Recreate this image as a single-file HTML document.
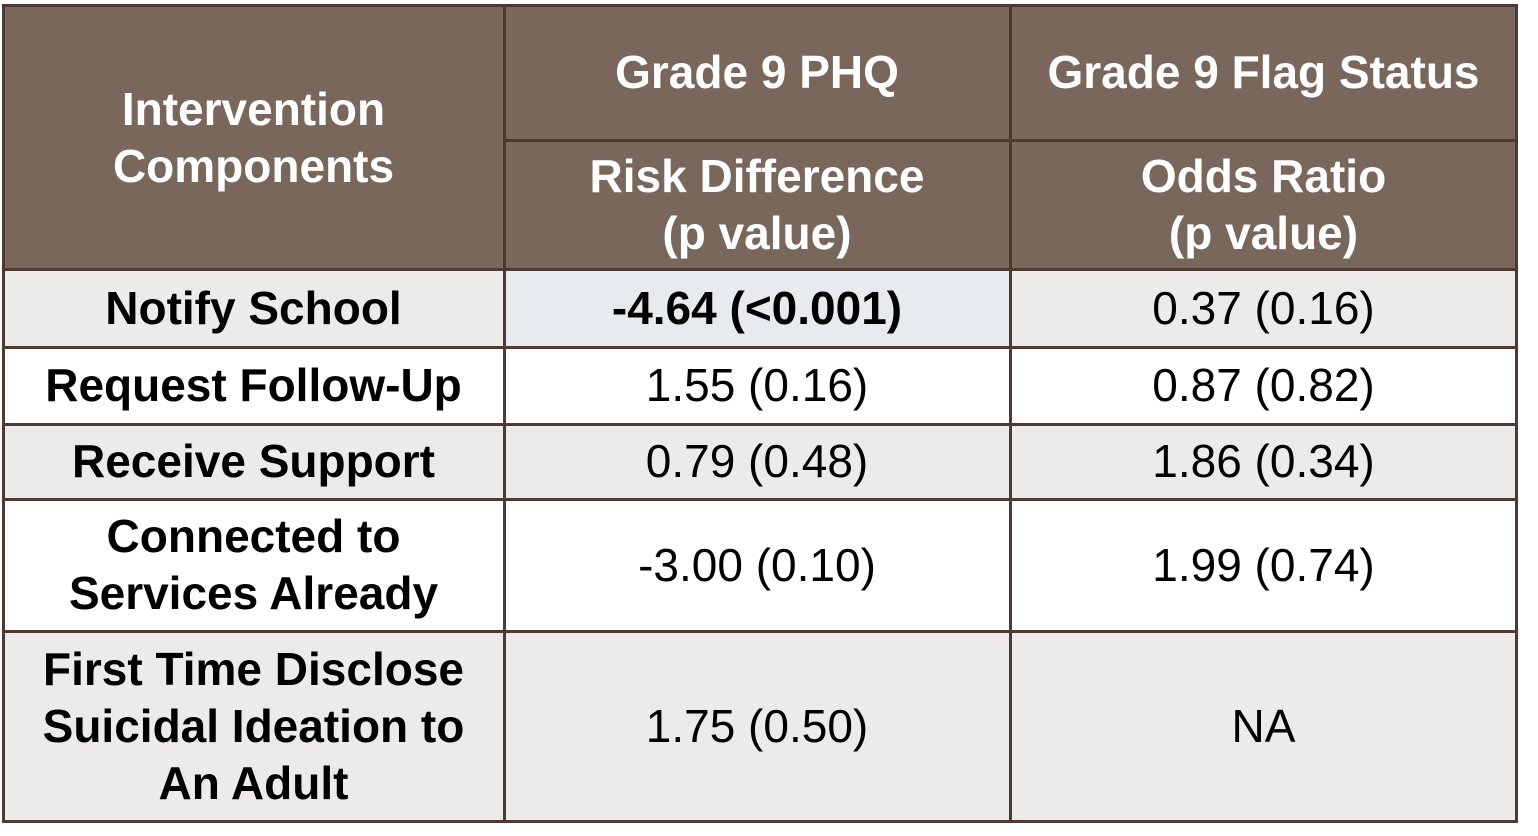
<!DOCTYPE html>
<html><head><meta charset="utf-8"><style>
html,body{margin:0;padding:0;background:#fff;width:1538px;height:836px;overflow:hidden}
.c{position:absolute;box-sizing:border-box;display:flex;align-items:center;justify-content:center;text-align:center;font-family:"Liberation Sans",Arial,sans-serif;font-size:46px;line-height:57px;color:#000}
.h{background:#7a675c;color:#fff;font-weight:bold}
.b{font-weight:bold}
.g{background:#edebe9}
.w{background:#fff}
.hl{position:absolute;background:#4e3a30}
</style></head><body>
<div style="position:absolute;left:0;top:0;width:1538px;height:836px">
<div class="c h" style="left:3px;top:5px;width:501px;height:265px">Intervention<br>Components</div>
<div class="c h" style="left:504px;top:5px;width:506px;height:135px">Grade 9 PHQ</div>
<div class="c h" style="left:1010px;top:5px;width:507px;height:135px">Grade 9 Flag Status</div>
<div class="c h" style="left:504px;top:140px;width:506px;height:130px">Risk Difference<br>(p value)</div>
<div class="c h" style="left:1010px;top:140px;width:507px;height:130px">Odds Ratio<br>(p value)</div>

<div class="c b g" style="left:3px;top:270px;width:501px;height:77px">Notify School</div>
<div class="c b" style="left:504px;top:270px;width:506px;height:77px;background:#e8ebee">-4.64 (&lt;0.001)</div>
<div class="c g" style="left:1010px;top:270px;width:507px;height:77px">0.37 (0.16)</div>

<div class="c b w" style="left:3px;top:347px;width:501px;height:77px">Request Follow-Up</div>
<div class="c w" style="left:504px;top:347px;width:506px;height:77px">1.55 (0.16)</div>
<div class="c w" style="left:1010px;top:347px;width:507px;height:77px">0.87 (0.82)</div>

<div class="c b g" style="left:3px;top:424px;width:501px;height:75px">Receive Support</div>
<div class="c g" style="left:504px;top:424px;width:506px;height:75px">0.79 (0.48)</div>
<div class="c g" style="left:1010px;top:424px;width:507px;height:75px">1.86 (0.34)</div>

<div class="c b w" style="left:3px;top:499px;width:501px;height:132px">Connected to<br>Services Already</div>
<div class="c w" style="left:504px;top:499px;width:506px;height:132px">-3.00 (0.10)</div>
<div class="c w" style="left:1010px;top:499px;width:507px;height:132px">1.99 (0.74)</div>

<div class="c b g" style="left:3px;top:631px;width:501px;height:191px">First Time Disclose<br>Suicidal Ideation to<br>An Adult</div>
<div class="c g" style="left:504px;top:631px;width:506px;height:191px">1.75 (0.50)</div>
<div class="c g" style="left:1010px;top:631px;width:507px;height:191px">NA</div>

<!-- grid lines -->
<div class="hl" style="left:2px;top:4px;width:1516px;height:3px"></div>
<div class="hl" style="left:504px;top:139px;width:1013px;height:3px"></div>
<div class="hl" style="left:2px;top:268px;width:1516px;height:3px"></div>
<div class="hl" style="left:2px;top:346px;width:1516px;height:3px"></div>
<div class="hl" style="left:2px;top:423px;width:1516px;height:3px"></div>
<div class="hl" style="left:2px;top:498px;width:1516px;height:3px"></div>
<div class="hl" style="left:2px;top:630px;width:1516px;height:3px"></div>
<div class="hl" style="left:2px;top:820px;width:1516px;height:3px"></div>
<div class="hl" style="left:2px;top:4px;width:3px;height:819px"></div>
<div class="hl" style="left:503px;top:4px;width:3px;height:819px"></div>
<div class="hl" style="left:1009px;top:4px;width:3px;height:819px"></div>
<div class="hl" style="left:1515px;top:4px;width:3px;height:819px"></div>
</div>
</body></html>
